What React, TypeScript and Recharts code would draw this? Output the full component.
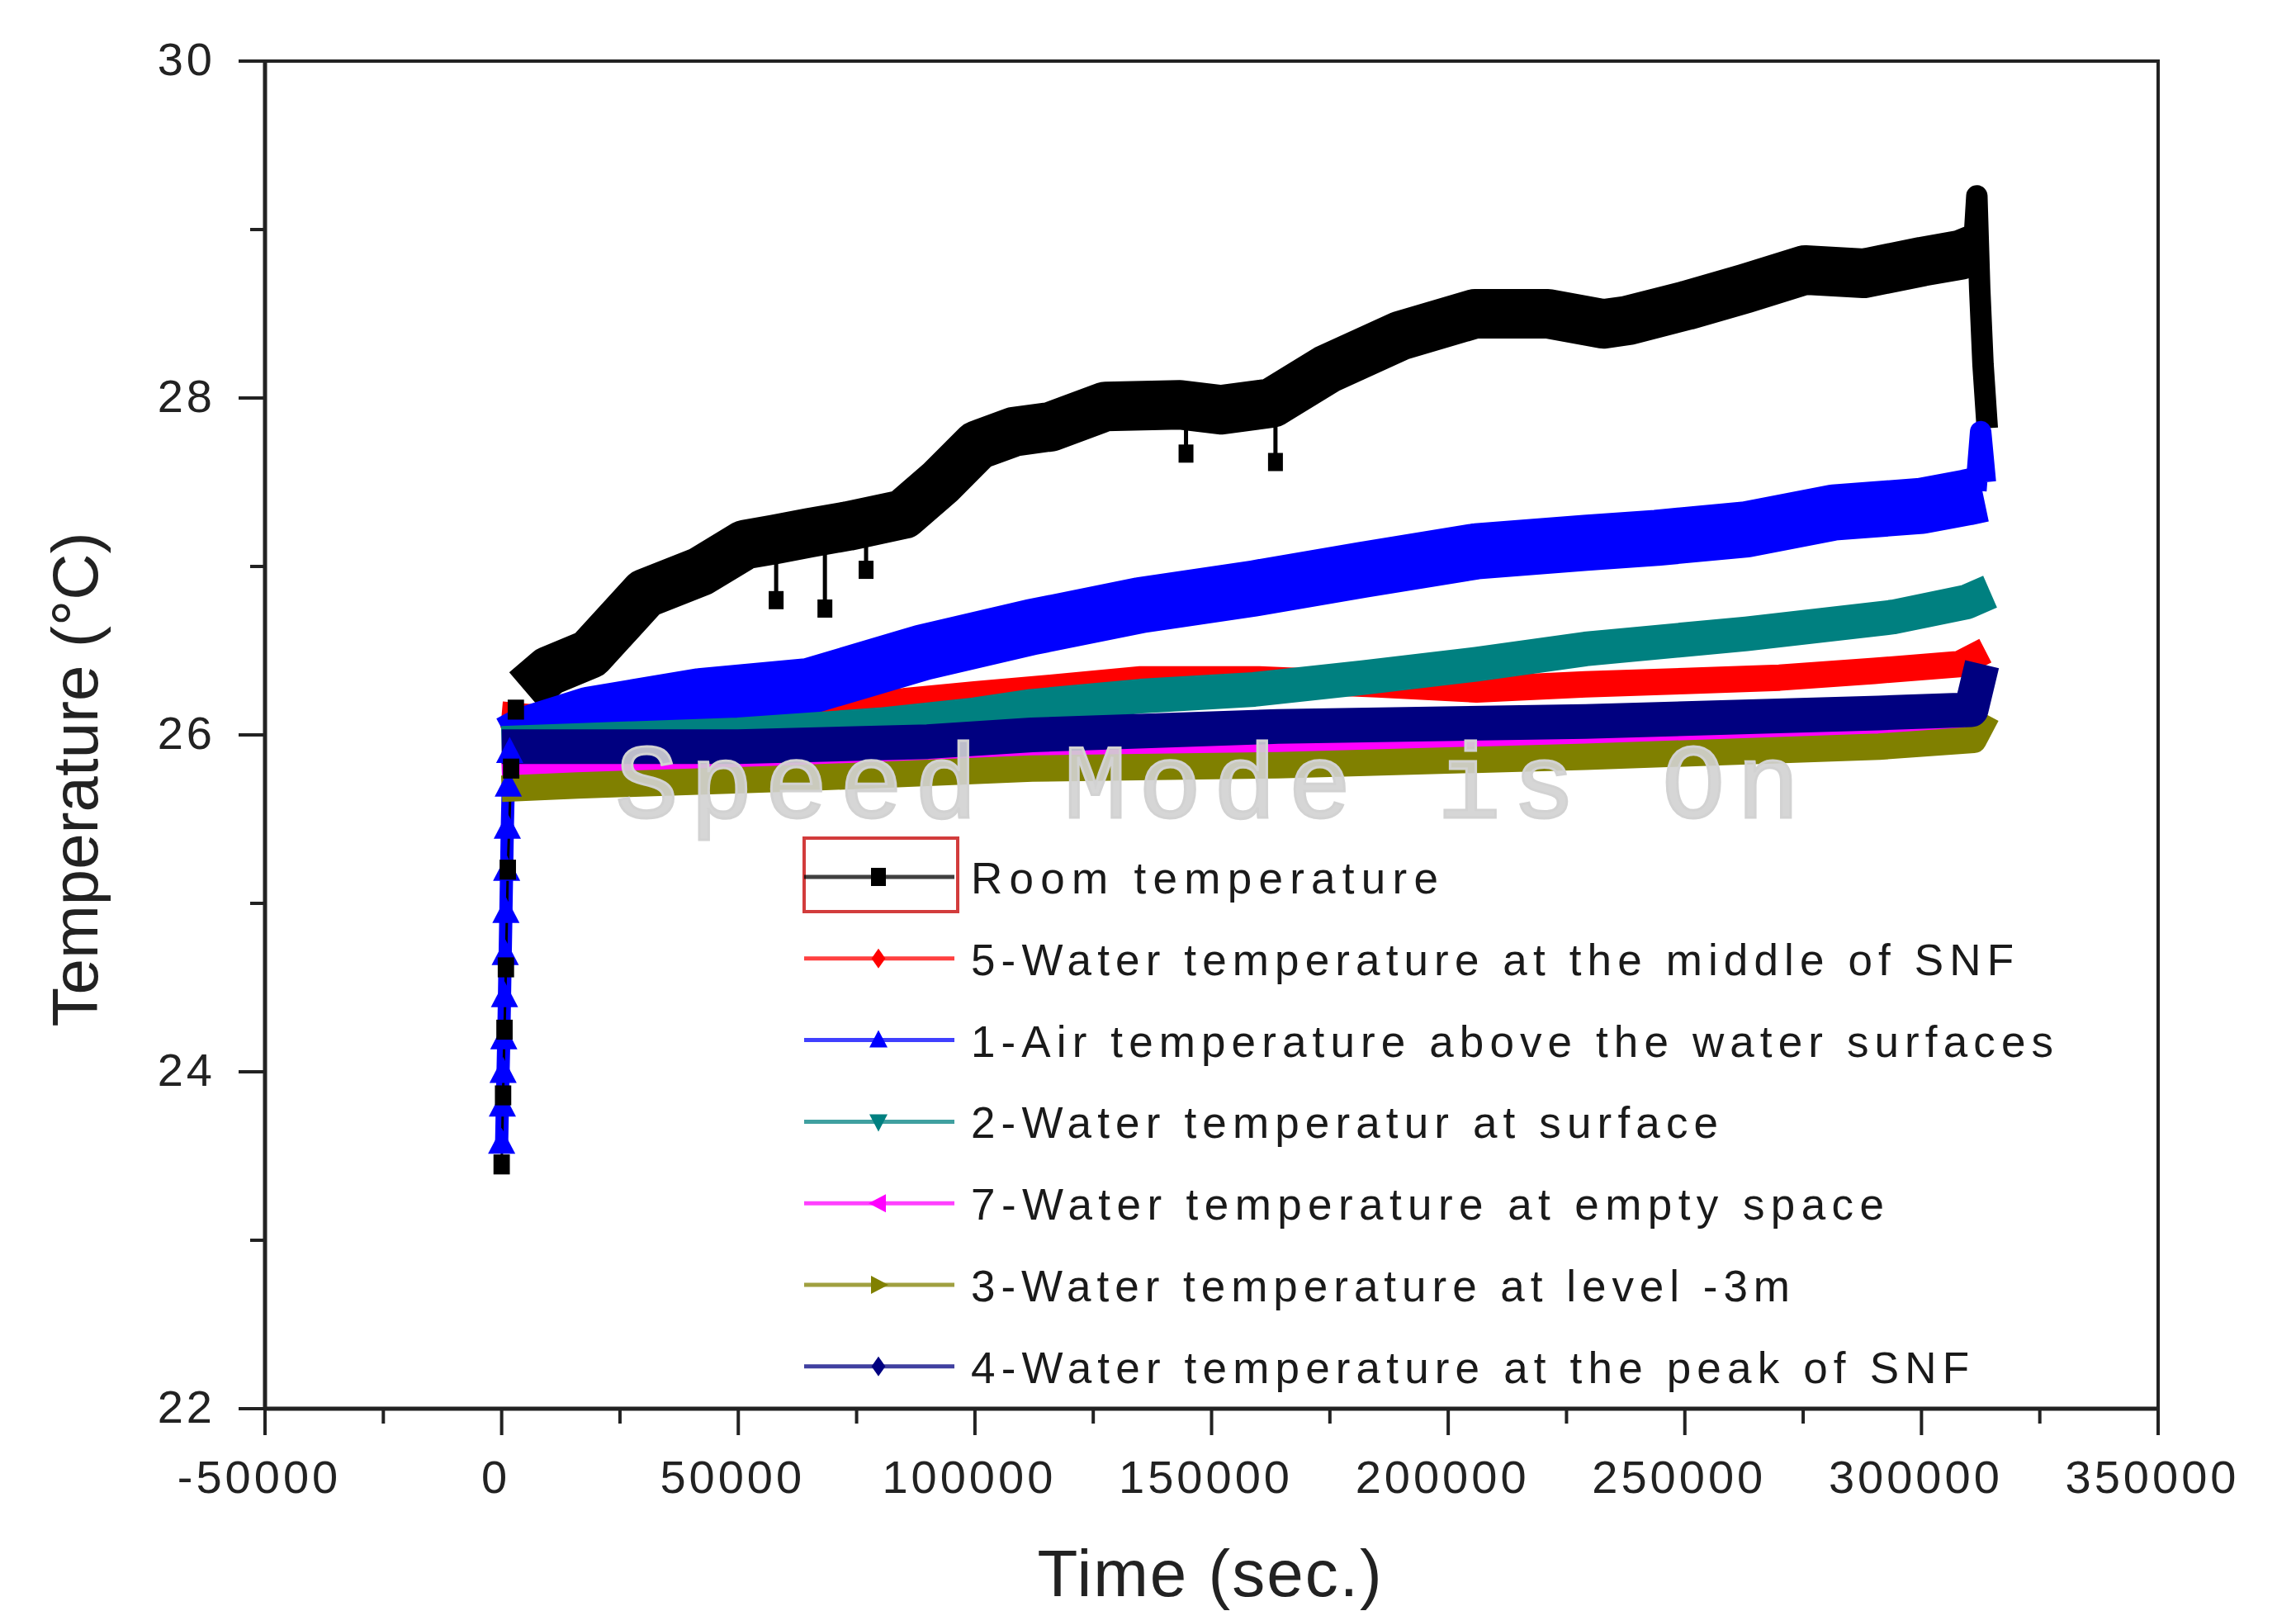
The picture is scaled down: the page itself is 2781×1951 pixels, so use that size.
import React from "react";
import { LineChart, Line, XAxis, YAxis, ReferenceArea, Legend } from "recharts";

const W = 2781;
const H = 1951;

// ---------- axis ticks ----------
const xMajorTicks = [-50000, 0, 50000, 100000, 150000, 200000, 250000, 300000, 350000];
const xMinorTicks = [-25000, 25000, 75000, 125000, 175000, 225000, 275000, 325000];
const yMajorTicks = [22, 24, 26, 28, 30];
const yMinorTicks = [23, 25, 27, 29];

// ---------- Room temperature (black) ----------
const roomStartTime = [0, 300, 600, 900, 1300, 2000, 3000];
const roomStartTemp = [23.45, 23.86, 24.25, 24.62, 25.2, 25.8, 26.15];
const roomTime = [5000, 10000, 18600, 30300, 42000, 51400, 57600, 65000, 73200, 84900, 92700, 100500, 108300, 116100, 127600, 143300, 152000, 162700, 174300, 189900, 205600, 221100, 232800, 237900, 250400, 262800, 275400, 287800, 300200, 308300, 311000];
const roomTemp = [26.26, 26.38, 26.48, 26.84, 26.97, 27.13, 27.16, 27.2, 27.24, 27.31, 27.5, 27.72, 27.8, 27.83, 27.95, 27.96, 27.93, 27.97, 28.17, 28.37, 28.5, 28.5, 28.44, 28.46, 28.55, 28.65, 28.76, 28.74, 28.81, 28.85, 28.88];
const roomDipTime = [58000, 58000, 58000, 68300, 68300, 68300, 77000, 77000, 77000, 144600, 144600, 144600, 163500, 163500];
const roomDipTemp = [27.15, 26.8, null, 27.2, 26.75, null, 27.24, 26.98, null, 27.95, 27.67, null, 27.97, 27.62];
const roomEndTime = [311000, 311700, 312300, 313000, 313900];
const roomEndTemp = [28.88, 29.2, 28.65, 28.2, 27.82];

// ---------- 5 - middle of SNF (red) ----------
const midTime = [0, 8000, 18000, 40000, 65000, 85000, 100000, 116000, 135000, 160000, 185000, 206000, 229000, 250000, 270000, 290000, 308000, 313500];
const midTemp = [26.12, 26.1, 26.12, 26.15, 26.18, 26.2, 26.24, 26.28, 26.33, 26.33, 26.3, 26.27, 26.3, 26.32, 26.34, 26.38, 26.42, 26.5];

// ---------- 1 - air above water (blue) ----------
const airStartTime = [0, 150, 300, 450, 600, 750, 900, 1050, 1200, 1400, 1700];
const airStartTemp = [23.58, 23.8, 24.0, 24.2, 24.45, 24.7, 24.95, 25.2, 25.45, 25.7, 25.9];
const airTime = [1700, 5000, 18600, 42000, 65000, 89000, 112000, 135000, 159000, 182000, 206000, 229000, 244000, 263000, 281500, 300000, 309600, 313000];
const airTemp = [25.95, 26.0, 26.12, 26.23, 26.29, 26.49, 26.64, 26.77, 26.87, 26.98, 27.09, 27.14, 27.17, 27.22, 27.32, 27.36, 27.41, 27.43];
const airEndTime = [311500, 312500, 313500];
const airEndTemp = [27.45, 27.8, 27.5];

// ---------- 2 - surface (teal) ----------
const surfTime = [0, 50000, 80000, 100000, 112000, 135000, 159000, 182000, 206000, 229000, 263000, 294000, 309600, 314500];
const surfTemp = [25.95, 26.0, 26.06, 26.12, 26.17, 26.23, 26.27, 26.34, 26.42, 26.51, 26.6, 26.7, 26.79, 26.85];

// ---------- 7 - empty space (magenta) ----------
const emptyTime = [0, 30000, 100000, 200000, 311000];
const emptyTemp = [25.8, 25.83, 25.87, 25.95, 26.03];

// ---------- 3 - level -3m (olive) ----------
const lvlTime = [0, 16000, 60000, 112000, 164000, 229000, 291000, 311000, 313800];
const lvlTemp = [25.68, 25.7, 25.74, 25.8, 25.82, 25.87, 25.93, 25.97, 26.12];

// ---------- 4 - peak of SNF (navy) ----------
const peakTime = [0, 16000, 50000, 90000, 112000, 164000, 229000, 291000, 310500, 312800];
const peakTemp = [25.93, 25.93, 25.93, 25.96, 26.0, 26.05, 26.08, 26.13, 26.15, 26.42];

// ---------- legend ----------
const legendNames = [
  "Room temperature",
  "5-Water temperature at the middle of SNF",
  "1-Air temperature above the water surfaces",
  "2-Water temperatur at surface",
  "7-Water temperature at empty space",
  "3-Water temperature at level -3m",
  "4-Water temperature at the peak of SNF",
];
const legendColors = ["#000000", "#ff0000", "#0000ff", "#008080", "#ff00ff", "#808000", "#000080"];
const legendMarkers = ["square", "diamond", "up", "down", "left", "right", "diamond"];
const legendTextLen = [566, 1263, 1311, 905, 1106, 992, 1209];

const zip = (ts: number[], vs: (number | null)[]) => ts.map((t, i) => ({ t, v: vs[i] }));

const FONT = "'Liberation Sans', Arial, sans-serif";
const AX = "#222";

function XTick(props: any) {
  const { x, y, payload } = props;
  const v = payload.value;
  const major = xMajorTicks.includes(v);
  return (
    <g>
      <line x1={x} x2={x} y1={y} y2={y + (major ? 32 : 18)} stroke={AX} strokeWidth={4} />
      {major && (
        <text x={x - 7} y={y + 102} textAnchor="middle" fontSize={56} fontFamily={FONT} fill={AX} letterSpacing={4}>
          {String(v)}
        </text>
      )}
    </g>
  );
}

function YTick(props: any) {
  const { x, y, payload } = props;
  const v = payload.value;
  const major = yMajorTicks.includes(v);
  return (
    <g>
      <line x1={x - (major ? 32 : 18)} x2={x} y1={y} y2={y} stroke={AX} strokeWidth={4} />
      {major && (
        <text x={x - 60} y={y + 17} textAnchor="end" fontSize={56} fontFamily={FONT} fill={AX} letterSpacing={4}>
          {String(v)}
        </text>
      )}
    </g>
  );
}

function markerShape(kind: string, cx: number, cy: number, color: string, s: number) {
  switch (kind) {
    case "square":
      return <rect x={cx - s * 0.45} y={cy - s * 0.55} width={s * 0.9} height={s * 1.1} fill={color} />;
    case "diamond":
      return <polygon points={`${cx},${cy - s * 0.6} ${cx + s * 0.42},${cy} ${cx},${cy + s * 0.6} ${cx - s * 0.42},${cy}`} fill={color} />;
    case "up":
      return <polygon points={`${cx},${cy - s * 0.6} ${cx + s * 0.55},${cy + s * 0.45} ${cx - s * 0.55},${cy + s * 0.45}`} fill={color} />;
    case "down":
      return <polygon points={`${cx},${cy + s * 0.6} ${cx + s * 0.55},${cy - s * 0.45} ${cx - s * 0.55},${cy - s * 0.45}`} fill={color} />;
    case "left":
      return <polygon points={`${cx - s * 0.6},${cy} ${cx + s * 0.45},${cy - s * 0.55} ${cx + s * 0.45},${cy + s * 0.55}`} fill={color} />;
    default:
      return <polygon points={`${cx + s * 0.6},${cy} ${cx - s * 0.45},${cy - s * 0.55} ${cx - s * 0.45},${cy + s * 0.55}`} fill={color} />;
  }
}

const makeDot = (kind: string, color: string, s: number) => (p: any) => {
  if (p.cx == null || p.cy == null || p.value == null) return <g key={`e-${p.index}`} />;
  return <g key={`d-${kind}-${p.index}`}>{markerShape(kind, p.cx, p.cy, color, s)}</g>;
};

function renderLegend() {
  return (
    <svg width={W} height={H} style={{ overflow: "visible", pointerEvents: "none" }}>
      <rect x={974} y={1015} width={186} height={89} fill="none" stroke="#d23c3c" strokeWidth={4} />
      {legendNames.map((name, i) => {
        const cy = 1062 + i * 98.8;
        return (
          <g key={name}>
            <line x1={974} x2={1156} y1={cy} y2={cy} stroke={legendColors[i]} strokeOpacity={0.75} strokeWidth={5} />
            {markerShape(legendMarkers[i], 1064, cy, legendColors[i], 20)}
            <text x={1176} y={cy + 20} fontSize={53} fontFamily={FONT} fill="#1a1a1a" textLength={legendTextLen[i]} lengthAdjust="spacing">
              {name}
            </text>
          </g>
        );
      })}
    </svg>
  );
}

function renderYTitle() {
  return (
    <text transform="translate(118,944) rotate(-90)" textAnchor="middle" fontSize={78} fontFamily={FONT} fill={AX}>
      Temperature (°C)
    </text>
  );
}

function renderXTitle() {
  return (
    <text x={1466} y={1933} textAnchor="middle" fontSize={80} fontFamily={FONT} fill={AX} letterSpacing={2}>
      Time (sec.)
    </text>
  );
}

export default function App() {
  const band = { dot: false as const, activeDot: false as const, isAnimationActive: false, strokeLinejoin: "round" as const, strokeLinecap: "butt" as const, dataKey: "v", type: "linear" as const };
  return (
    <div style={{ position: "absolute", left: 0, top: 0, width: W, height: H, background: "#fff" }}>
      <LineChart width={W} height={H} margin={{ top: 74, right: 167, bottom: 0, left: 0 }}>
        <XAxis
          dataKey="t"
          type="number"
          domain={[-50000, 350000]}
          allowDataOverflow
          ticks={[...xMajorTicks, ...xMinorTicks].sort((a, b) => a - b)}
          interval={0}
          height={245}
          tickSize={0}
          tickMargin={0}
          tickLine={false}
          axisLine={{ stroke: AX, strokeWidth: 5 }}
          tick={<XTick />}
          label={{ value: "Time (sec.)", content: renderXTitle }}
        />
        <YAxis
          type="number"
          domain={[22, 30]}
          allowDataOverflow
          ticks={[...yMajorTicks, ...yMinorTicks].sort((a, b) => a - b)}
          interval={0}
          width={321}
          tickSize={0}
          tickMargin={0}
          tickLine={false}
          axisLine={{ stroke: AX, strokeWidth: 5 }}
          tick={<YTick />}
          label={{ value: "Temperature (°C)", content: renderYTitle }}
        />
        <ReferenceArea x1={-50000} x2={350000} y1={22} y2={30} fill="none" fillOpacity={0} stroke={AX} strokeWidth={4} ifOverflow="visible" />

        <Line {...band} name="Room temperature" data={zip(roomTime, roomTemp)} stroke="#000000" strokeWidth={60} />
        <Line {...band} name="room-dips" legendType="none" data={zip(roomDipTime, roomDipTemp)} stroke="#000000" strokeWidth={5} dot={makeDot("square", "#000000", 20)} connectNulls={false} />
        <Line {...band} name="room-end" legendType="none" data={zip(roomEndTime, roomEndTemp)} stroke="#000000" strokeWidth={26} />
        <Line {...band} name="5-Water temperature at the middle of SNF" data={zip(midTime, midTemp)} stroke="#ff0000" strokeWidth={32} />
        <Line {...band} name="air-start" legendType="none" data={zip(airStartTime, airStartTemp)} stroke="#0000ff" strokeWidth={16} dot={makeDot("up", "#0000ff", 30)} />
        <Line {...band} name="room-start" legendType="none" data={zip(roomStartTime, roomStartTemp)} stroke="#000000" strokeWidth={3} dot={makeDot("square", "#000000", 22)} />
        <Line {...band} name="1-Air temperature above the water surfaces" data={zip(airTime, airTemp)} stroke="#0000ff" strokeWidth={68} />
        <Line {...band} name="air-end" legendType="none" data={zip(airEndTime, airEndTemp)} stroke="#0000ff" strokeWidth={26} />
        <Line {...band} name="2-Water temperatur at surface" data={zip(surfTime, surfTemp)} stroke="#008080" strokeWidth={42} />
        <Line {...band} name="7-Water temperature at empty space" data={zip(emptyTime, emptyTemp)} stroke="#ff00ff" strokeWidth={24} />
        <Line {...band} name="3-Water temperature at level -3m" data={zip(lvlTime, lvlTemp)} stroke="#808000" strokeWidth={32} />
        <Line {...band} name="4-Water temperature at the peak of SNF" data={zip(peakTime, peakTemp)} stroke="#000080" strokeWidth={42} />

        <Legend
          content={renderLegend}
          layout="horizontal"
          verticalAlign="middle"
          align="center"
          wrapperStyle={{ position: "absolute", left: 0, top: 0, width: W, height: H, pointerEvents: "none" }}
        />
      </LineChart>
      <svg width={W} height={H} style={{ position: "absolute", left: 0, top: 0, pointerEvents: "none" }}>
        <text
          x={745}
          y={990}
          fontSize={128}
          fontFamily="'Liberation Mono', 'Courier New', monospace"
          fill="#d2d2d2"
          fillOpacity={0.9}
          stroke="#d2d2d2"
          strokeWidth={3}
          textLength={1435}
          lengthAdjust="spacing"
        >
          Speed Mode is On
        </text>
      </svg>
    </div>
  );
}
